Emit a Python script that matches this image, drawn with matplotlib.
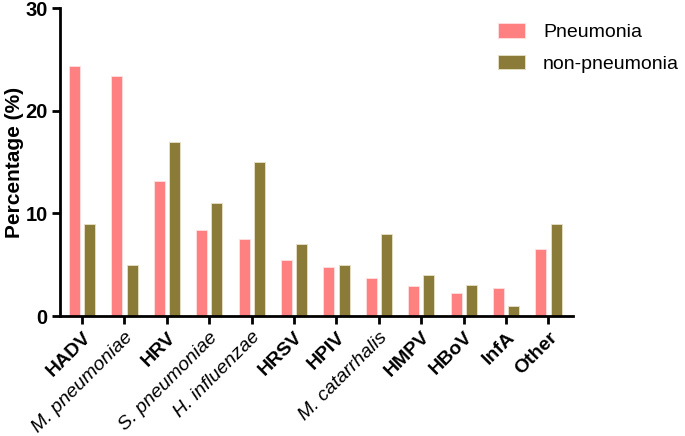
import numpy as np
import matplotlib.pyplot as plt

plt.rcParams['font.family'] = ['Liberation Sans', 'DejaVu Sans']

categories = ["HADV", "M. pneumoniae", "HRV", "S. pneumoniae", "H. influenzae",
              "HRSV", "HPIV", "M. catarrhalis", "HMPV", "HBoV", "InfA", "Other"]
italic_names = ["M. pneumoniae", "S. pneumoniae", "H. influenzae", "M. catarrhalis"]
pneumonia = [24.4, 23.4, 13.2, 8.4, 7.5, 5.5, 4.8, 3.7, 2.9, 2.3, 2.7, 6.5]
non_pneumonia = [9, 5, 17, 11, 15, 7, 5, 8, 4, 3, 1, 9]

pink = "#FF8080"
olive = "#8A7B38"

fig = plt.figure(figsize=(6.85, 4.36), dpi=100)
ax = fig.add_axes([0.0876, 0.275, 0.749, 0.706])

x = np.arange(len(categories))
w = 0.26
ax.bar(x - 0.18, pneumonia, w, color=pink, edgecolor="#FFE0E0", linewidth=0.6, label="Pneumonia")
ax.bar(x + 0.18, non_pneumonia, w, color=olive, edgecolor="#E8E2C8", linewidth=0.6, label="non-pneumonia")

ax.set_xlim(-0.52, 11.58)
ax.set_ylim(0, 30)
ax.set_yticks([0, 10, 20, 30])
ax.set_xticks(x)
ax.set_xticklabels(categories, rotation=45, ha="right", rotation_mode="anchor", fontsize=14)
for lab in ax.get_xticklabels():
    if lab.get_text() in italic_names:
        lab.set_fontstyle("italic")
    else:
        lab.set_fontweight("bold")
for lab in ax.get_yticklabels():
    lab.set_fontweight("bold")
    lab.set_fontsize(14.5)

ax.set_ylabel("Percentage (%)", fontsize=15, fontweight="bold", labelpad=1)

for s in ["top", "right"]:
    ax.spines[s].set_visible(False)
for s in ["left", "bottom"]:
    ax.spines[s].set_linewidth(2)
ax.tick_params(width=2, length=6, pad=3)

leg = ax.legend(loc="upper left", bbox_to_anchor=(0.82, 1.01), frameon=False, fontsize=14,
                handlelength=1.4, handleheight=0.8, labelspacing=0.7, handletextpad=0.9)

fig.savefig("out.png", dpi=100)
